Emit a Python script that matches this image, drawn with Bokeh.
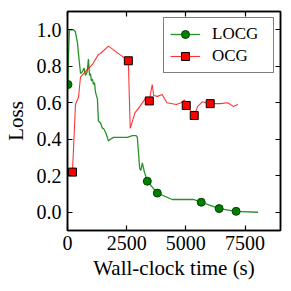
from bokeh.plotting import figure
from bokeh.models import Range1d, LinearAxis, FixedTicker, Legend, LegendItem, CustomJSTickFormatter
from bokeh.embed import file_html
from bokeh.resources import INLINE

# ---- data ----
locg_time = [20, 40, 80, 250, 330, 420, 470, 550, 630, 700, 760, 830, 885, 930, 970,
             1010, 1054, 1096, 1140, 1180, 1265, 1307, 1391, 1476, 1518, 1602, 1686,
             1729, 1813, 1939, 2200, 2530, 2740, 2900, 2951, 3050, 3100, 3162, 3250,
             3373, 3795, 4427, 5312, 5650, 6408, 7125, 8050]
locg_loss = [0.70, 0.85, 1.00, 1.00, 0.99, 0.93, 0.86, 0.76, 0.77, 0.79, 0.75, 0.77,
             0.84, 0.75, 0.76, 0.72, 0.73, 0.70, 0.71, 0.66, 0.62, 0.50, 0.49, 0.46,
             0.46, 0.44, 0.41, 0.39, 0.40, 0.41, 0.41, 0.41, 0.42, 0.42, 0.41, 0.24,
             0.23, 0.27, 0.22, 0.17, 0.105, 0.07, 0.07, 0.055, 0.02, 0.005, 0.0]
locg_mark_time = [20, 3373, 3795, 5650, 6408, 7125]
locg_mark_loss = [0.70, 0.17, 0.105, 0.055, 0.02, 0.005]

ocg_time = [210, 337, 464, 548, 759, 1054, 1307, 1391, 1729, 1939, 2360, 2570, 2650,
            2850, 3060, 3270, 3457, 3580, 3640, 3800, 4000, 4200, 4600, 4800, 4950,
            5017, 5355, 5500, 5700, 6030, 6450, 6780, 7000, 7200]
ocg_loss = [0.22, 0.59, 0.63, 0.74, 0.77, 0.81, 0.865, 0.87, 0.91, 0.89, 0.85, 0.83,
            0.46, 0.545, 0.58, 0.62, 0.61, 0.70, 0.64, 0.635, 0.645, 0.60, 0.59, 0.60,
            0.615, 0.585, 0.53, 0.58, 0.605, 0.595, 0.595, 0.60, 0.58, 0.59]
ocg_mark_time = [210, 2570, 3457, 5017, 5355, 6030]
ocg_mark_loss = [0.22, 0.83, 0.61, 0.585, 0.53, 0.595]

x_ticks = [0, 2500, 5000, 7500]
y_ticks = [0.0, 0.2, 0.4, 0.6, 0.8, 1.0]

FONT = "'Liberation Serif', 'Times New Roman', serif"

p = figure(frame_width=213, frame_height=219, output_backend="svg", toolbar_location=None,
           x_range=Range1d(0, 9000), y_range=Range1d(-0.1, 1.1),
           min_border_left=67, min_border_right=3, min_border_top=11, min_border_bottom=52)
p.xgrid.visible = False
p.ygrid.visible = False
p.outline_line_color = "black"
p.outline_line_width = 1.5
p.background_fill_color = "white"
p.border_fill_color = "white"

l1 = p.line(locg_time, locg_loss, line_color="green", line_width=1.3, line_alpha=0.85)
s1 = p.scatter(locg_mark_time, locg_mark_loss, marker="circle", size=8,
               fill_color="green", line_color="#004400", line_width=1)
l2 = p.line(ocg_time, ocg_loss, line_color="red", line_width=1.1, line_alpha=0.8)
s2 = p.scatter(ocg_mark_time, ocg_mark_loss, marker="square", size=8,
               fill_color="red", line_color="black", line_width=1)

def style(ax):
    ax.axis_line_width = 1.5
    ax.axis_line_color = "black"
    ax.major_tick_in = 5
    ax.major_tick_out = 0
    ax.major_tick_line_width = 1.2
    ax.minor_tick_line_color = None
    ax.major_label_text_font = FONT
    ax.major_label_text_font_size = "20px"
    ax.major_label_text_color = "black"
    ax.axis_label_text_font = FONT
    ax.axis_label_text_font_size = "21px"
    ax.axis_label_text_font_style = "normal"
    ax.axis_label_text_color = "black"

xa = p.xaxis[0]
ya = p.yaxis[0]
xa.ticker = FixedTicker(ticks=x_ticks)
ya.ticker = FixedTicker(ticks=y_ticks)
ya.formatter = CustomJSTickFormatter(code="return tick.toFixed(1);")
xa.axis_label = "Wall-clock time (s)"
ya.axis_label = "Loss"
style(xa)
style(ya)
xa.major_label_standoff = 5
ya.major_label_standoff = 6
xa.axis_label_standoff = 3
ya.axis_label_standoff = 6

blank = CustomJSTickFormatter(code="return '';")
top = LinearAxis(ticker=FixedTicker(ticks=x_ticks), formatter=blank, major_label_standoff=0)
right = LinearAxis(ticker=FixedTicker(ticks=y_ticks), formatter=blank, major_label_standoff=0)
style(top)
style(right)
top.major_label_text_color = None
right.major_label_text_color = None
p.add_layout(top, "above")
p.add_layout(right, "right")

legend = Legend(items=[LegendItem(label="LOCG", renderers=[l1, s1]),
                       LegendItem(label="OCG", renderers=[l2, s2])],
                location="top_right")
legend.margin = 6
legend.padding = 6
legend.spacing = 2
legend.glyph_width = 30
legend.glyph_height = 20
legend.label_standoff = 12
legend.label_width = 55
legend.label_text_font = FONT
legend.label_text_font_size = "17px"
legend.label_text_color = "black"
legend.border_line_color = "black"
legend.border_line_width = 1.5
legend.background_fill_alpha = 1.0
p.add_layout(legend, "center")

open("out.html", "w").write(file_html(p, INLINE))
